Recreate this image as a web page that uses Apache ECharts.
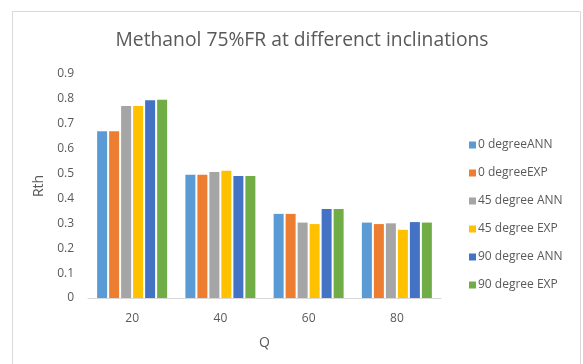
<!DOCTYPE html>
<html>
<head>
<meta charset="utf-8">
<script src="https://cdn.jsdelivr.net/npm/echarts@6/dist/echarts.min.js"></script>
<style>html,body{margin:0;padding:0;background:#fff;}#c{width:583px;height:364px;}</style>
</head>
<body>
<div id="c"></div>
<script>
const categories = ['20', '40', '60', '80'];
const seriesNames = ['0 degreeANN', '0 degreeEXP', '45 degree ANN', '45 degree EXP', '90 degree ANN', '90 degree EXP'];
const deg0ANN = [0.67, 0.495, 0.338, 0.303];
const deg0EXP = [0.67, 0.495, 0.338, 0.297];
const deg45ANN = [0.771, 0.506, 0.303, 0.300];
const deg45EXP = [0.771, 0.511, 0.297, 0.274];
const deg90ANN = [0.795, 0.490, 0.358, 0.305];
const deg90EXP = [0.797, 0.490, 0.358, 0.303];
const yTicks = ['0', '0.1', '0.2', '0.3', '0.4', '0.5', '0.6', '0.7', '0.8', '0.9'];

const values = [deg0ANN, deg0EXP, deg45ANN, deg45EXP, deg90ANN, deg90EXP];
const colors = ['#5B9BD5', '#ED7D31', '#A5A5A5', '#FFC000', '#4472C4', '#70AD47'];
const font = 'Open Sans';

const chart = echarts.init(document.getElementById('c'));
chart.setOption({
  animation: false,
  textStyle: { fontFamily: font },
  title: {
    text: 'Methanol 75%FR at differenct inclinations',
    left: 297, top: 26, textAlign: 'center',
    textStyle: { fontSize: 19.3, fontWeight: 'normal', color: '#595959', fontFamily: font }
  },
  graphic: [{
    type: 'rect', shape: { x: 12.5, y: 11.5, width: 568, height: 370 },
    style: { fill: 'none', stroke: '#d9d9d9', lineWidth: 1 }, silent: true, z: -1
  }],
  legend: {
    orient: 'vertical', left: 464, top: 134, itemGap: 16,
    itemWidth: 7, itemHeight: 7, icon: 'rect',
    textStyle: { fontSize: 12, color: '#595959', fontFamily: font, padding: [0, 0, 0, -3] },
    data: seriesNames
  },
  grid: { left: 88, right: 142, top: 74, bottom: 66 },
  xAxis: {
    type: 'category', data: categories,
    name: 'Q', nameLocation: 'middle', nameGap: 38,
    nameTextStyle: { fontSize: 14, color: '#595959' },
    axisLine: { lineStyle: { color: '#d9d9d9', width: 1 } },
    axisTick: { show: false },
    axisLabel: { fontSize: 12, color: '#595959', margin: 15 }
  },
  yAxis: {
    type: 'value', min: 0, max: 0.9, interval: 0.1,
    name: 'Rth', nameLocation: 'middle', nameGap: 38, nameRotate: 90,
    nameTextStyle: { fontSize: 14, color: '#595959' },
    axisLine: { show: false }, axisTick: { show: false },
    splitLine: { show: false },
    axisLabel: { fontSize: 12, color: '#595959', margin: 14,
      formatter: (v) => yTicks[Math.round(v * 10)] }
  },
  series: seriesNames.map((n, i) => ({
    name: n, type: 'bar', data: values[i],
    barWidth: 10, barGap: '20%',
    itemStyle: { color: colors[i] }
  }))
});
</script>
</body>
</html>
